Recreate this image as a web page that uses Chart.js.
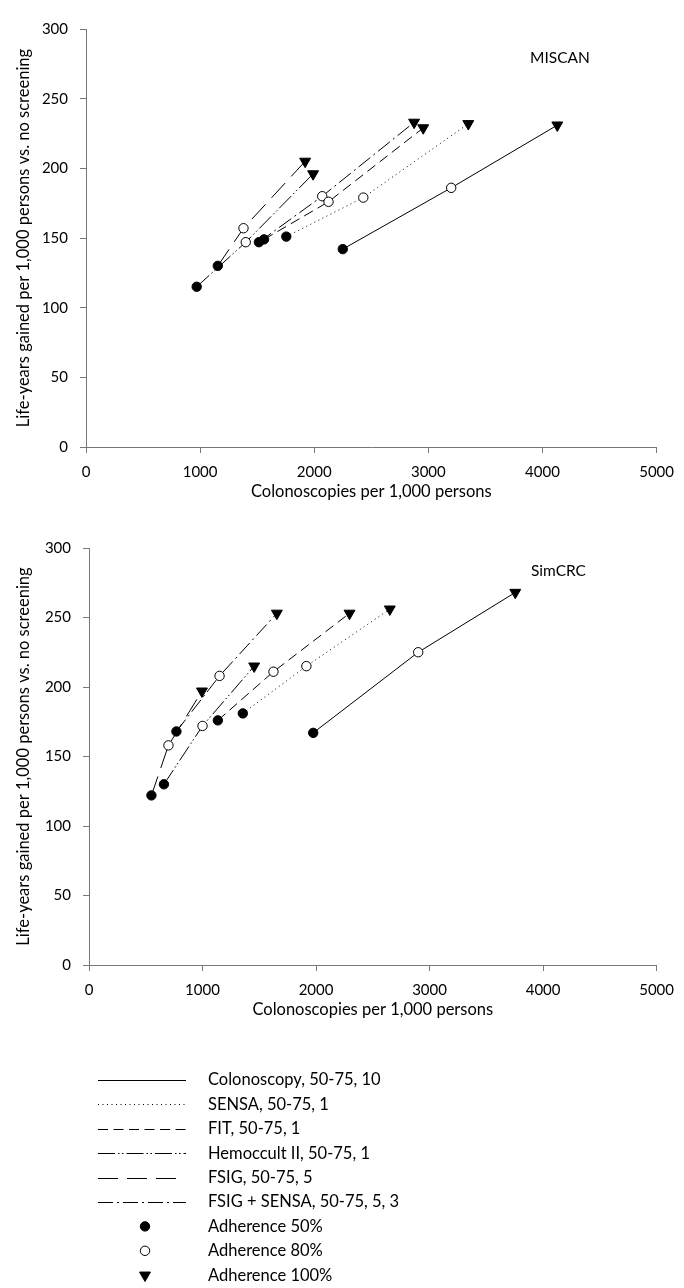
<!DOCTYPE html>
<html>
<head>
<meta charset="utf-8">
<script src="https://cdn.jsdelivr.net/npm/chart.js@4.4.1/dist/chart.umd.min.js"></script>
<style>
  html, body { margin: 0; padding: 0; background: #fff; }
  body { width: 684px; height: 1288px; position: relative; overflow: hidden;
         font-family: Lato, "Open Sans", sans-serif; color: #000; }
  canvas { position: absolute; left: 0; }
  #miscan { top: 0; }
  #simcrc { top: 515px; }
  #legend { top: 1060px; }
  .model { position: absolute; font-size: 15.5px; line-height: 18px; }
</style>
</head>
<body>
<canvas id="miscan" width="684" height="510"></canvas>
<canvas id="simcrc" width="684" height="510"></canvas>
<canvas id="legend" width="684" height="228"></canvas>
<div class="model" style="left:530px; top:48px;">MISCAN</div>
<div class="model" style="left:531px; top:561px;">SimCRC</div>
<script>
// Screening strategies (age range, interval) and adherence levels
const strategies = [
  'Colonoscopy, 50-75, 10',
  'SENSA, 50-75, 1',
  'FIT, 50-75, 1',
  'Hemoccult II, 50-75, 1',
  'FSIG, 50-75, 5',
  'FSIG + SENSA, 50-75, 5, 3'
];
const adherenceLevels = ['Adherence 50%', 'Adherence 80%', 'Adherence 100%'];

// MISCAN: colonoscopies per 1,000 persons at 50% / 80% / 100% adherence
const miscanColonoscopy = [2250, 3200, 4130];
const miscanSensa       = [1755, 2430, 3350];
const miscanFit         = [1560, 2125, 2955];
const miscanHemoccult   = [970, 1400, 1990];
const miscanFsig        = [1155, 1380, 1920];
const miscanFsigSensa   = [1515, 2070, 2875];
// MISCAN: life-years gained per 1,000 persons vs. no screening
const miscanColonoscopyLyg = [142, 186, 231];
const miscanSensaLyg       = [151, 179, 232];
const miscanFitLyg         = [149, 176, 229];
const miscanHemoccultLyg   = [115, 147, 196];
const miscanFsigLyg        = [130, 157, 205];
const miscanFsigSensaLyg   = [147, 180, 233];

// SimCRC: colonoscopies per 1,000 persons
const simcrcColonoscopy = [1975, 2900, 3755];
const simcrcSensa       = [1355, 1915, 2650];
const simcrcFit         = [1135, 1625, 2295];
const simcrcHemoccult   = [660, 1000, 1455];
const simcrcFsig        = [550, 700, 995];
const simcrcFsigSensa   = [770, 1150, 1655];
// SimCRC: life-years gained per 1,000 persons
const simcrcColonoscopyLyg = [167, 225, 268];
const simcrcSensaLyg       = [181, 215, 256];
const simcrcFitLyg         = [176, 211, 253];
const simcrcHemoccultLyg   = [130, 172, 215];
const simcrcFsigLyg        = [122, 158, 197];
const simcrcFsigSensaLyg   = [168, 208, 253];

// Axis tick values
const xTicks = [0, 1000, 2000, 3000, 4000, 5000];
const yTicks = [0, 50, 100, 150, 200, 250, 300];

// Line patterns per strategy, shared by the charts and the legend
const dashPatterns = [[], [1, 3.5], [10, 5.5], [17, 3, 1.5, 2.5, 1.5, 3], [20, 9], [15, 4, 2, 4]];
// Marker per adherence level
const markerStyles = ['circle', 'circle', 'triangle'];
const markerFills = ['#000', '#fff', '#000'];
const markerRotation = [0, 0, 180];
const markerRadius = [4.7, 4.7, 6.3];

const FONT = 'Lato, "Open Sans", sans-serif';
const AXIS_GREY = '#777777';

function pairUp(xs, ys) {
  return xs.map((x, i) => ({ x: x, y: ys[i] }));
}

function buildDatasets(xsList, ysList) {
  return strategies.map((name, s) => ({
    label: name,
    data: pairUp(xsList[s], ysList[s]),
    showLine: true,
    borderColor: '#000',
    borderWidth: 1,
    borderDash: dashPatterns[s],
    pointStyle: markerStyles,
    pointRotation: markerRotation,
    pointBackgroundColor: markerFills,
    pointBorderColor: '#000',
    pointBorderWidth: 1,
    pointRadius: markerRadius,
    pointHoverRadius: markerRadius
  }));
}

function makePanel(canvasId, xsList, ysList, box) {
  const ctx = document.getElementById(canvasId);
  return new Chart(ctx, {
    type: 'scatter',
    data: { datasets: buildDatasets(xsList, ysList) },
    options: {
      responsive: false,
      animation: false,
      events: [],
      layout: { padding: { top: box.top, right: box.right, bottom: box.bottom, left: 0 } },
      plugins: { legend: { display: false }, tooltip: { enabled: false } },
      scales: {
        x: {
          type: 'linear',
          min: xTicks[0],
          max: xTicks[xTicks.length - 1],
          afterBuildTicks: sc => { sc.ticks = xTicks.map(v => ({ value: v })); },
          afterFit: sc => { sc.height = box.xAxisHeight; },
          ticks: { color: '#000', font: { family: FONT, size: 15 }, padding: 10,
                   callback: v => String(v), maxRotation: 0 },
          grid: { drawOnChartArea: false, drawTicks: true, tickLength: 6, color: AXIS_GREY },
          border: { display: true, color: AXIS_GREY, width: 1 },
          title: { display: true, text: 'Colonoscopies per 1,000 persons', color: '#000',
                   font: { family: FONT, size: 16.5 }, padding: { top: 0, bottom: 0 } }
        },
        y: {
          type: 'linear',
          min: yTicks[0],
          max: yTicks[yTicks.length - 1],
          afterBuildTicks: sc => { sc.ticks = yTicks.map(v => ({ value: v })); },
          afterFit: sc => { sc.width = box.left; },
          ticks: { color: '#000', font: { family: FONT, size: 15 }, padding: 12,
                   callback: v => String(v) },
          grid: { drawOnChartArea: false, drawTicks: true, tickLength: 6, color: AXIS_GREY },
          border: { display: true, color: AXIS_GREY, width: 1 },
          title: { display: true, text: 'Life-years gained per 1,000 persons vs. no screening',
                   color: '#000', font: { family: FONT, size: 16.5 }, padding: { top: 14, bottom: 0 } }
        }
      }
    }
  });
}

makePanel('miscan',
  [miscanColonoscopy, miscanSensa, miscanFit, miscanHemoccult, miscanFsig, miscanFsigSensa],
  [miscanColonoscopyLyg, miscanSensaLyg, miscanFitLyg, miscanHemoccultLyg, miscanFsigLyg, miscanFsigSensaLyg],
  { top: 29, right: 21, bottom: 8, left: 86, xAxisHeight: 55 });

makePanel('simcrc',
  [simcrcColonoscopy, simcrcSensa, simcrcFit, simcrcHemoccult, simcrcFsig, simcrcFsigSensa],
  [simcrcColonoscopyLyg, simcrcSensaLyg, simcrcFitLyg, simcrcHemoccultLyg, simcrcFsigLyg, simcrcFsigSensaLyg],
  { top: 33, right: 23, bottom: 5, left: 89, xAxisHeight: 55 });

// Legend: line patterns for strategies, then markers for adherence levels
(function drawLegend() {
  const c = document.getElementById('legend').getContext('2d');
  const rowY = i => 20 + 24.4 * i;
  c.font = '16.5px ' + FONT;
  c.textBaseline = 'middle';
  c.fillStyle = '#000';
  strategies.forEach((name, i) => {
    const y = Math.round(rowY(i)) + 0.5;
    c.save();
    c.strokeStyle = '#000';
    c.lineWidth = 1;
    c.setLineDash(dashPatterns[i]);
    c.beginPath();
    c.moveTo(98, y);
    c.lineTo(i === 4 ? 178 : 186, y);
    c.stroke();
    c.restore();
    c.fillText(name, 208, rowY(i));
  });
  adherenceLevels.forEach((name, j) => {
    const i = strategies.length + j;
    const y = rowY(i);
    c.save();
    c.translate(145, y);
    c.strokeStyle = '#000';
    c.lineWidth = 1;
    c.fillStyle = markerFills[j];
    c.beginPath();
    if (markerStyles[j] === 'circle') {
      c.arc(0, 0, markerRadius[j], 0, Math.PI * 2);
    } else {
      const r = markerRadius[j];
      c.rotate(Math.PI);
      c.moveTo(0, -r);
      c.lineTo(r * Math.sin(Math.PI * 2 / 3), r * 0.5);
      c.lineTo(-r * Math.sin(Math.PI * 2 / 3), r * 0.5);
      c.closePath();
    }
    c.fill();
    c.stroke();
    c.restore();
    c.fillText(name, 208, y);
  });
})();
</script>
</body>
</html>
